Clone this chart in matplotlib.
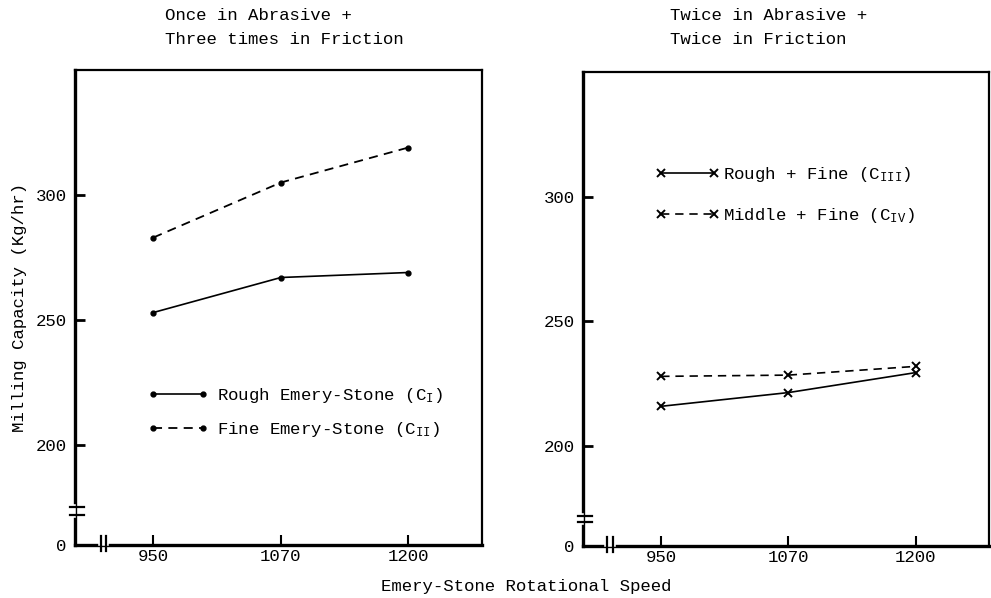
import matplotlib
matplotlib.use("Agg")
import matplotlib.pyplot as plt

plt.rcParams["font.family"] = ["Liberation Mono", "DejaVu Sans Mono"]
plt.rcParams["mathtext.fontset"] = "custom"
plt.rcParams["mathtext.rm"] = "Liberation Mono"
plt.rcParams["mathtext.it"] = "Liberation Mono"

# ---------------------------------------------------------------------------
# data
# ---------------------------------------------------------------------------
speeds = ["950", "1070", "1200"]
y_ticks = [200, 250, 300]

rough_stone = [253, 267, 269]        # C_I
fine_stone = [283, 305, 319]         # C_II
rough_fine = [216, 221.5, 229.5]     # C_III
middle_fine = [228, 228.5, 232]      # C_IV

titles_left = ["Once in Abrasive +", "Three times in Friction"]
titles_right = ["Twice in Abrasive +", "Twice in Friction"]

Y_LO, Y_HI = 160, 350
FS = 12.5

fig = plt.figure(figsize=(9.91, 5.98), dpi=100)
ax1 = fig.add_axes([75 / 991, 53 / 598, 407 / 991, 475 / 598])
ax2 = fig.add_axes([583 / 991, 52 / 598, 406 / 991, 474 / 598])


def style_axes(ax, ybreak, xbreak):
    x = range(len(speeds))
    ax.set_xlim(-0.615, 2.577)
    ax.set_ylim(Y_LO, Y_HI)
    ax.set_xticks(list(x))
    ax.set_xticklabels(speeds, fontsize=FS)
    ax.set_yticks([Y_LO] + y_ticks)
    ax.set_yticklabels(["0"] + [str(v) for v in y_ticks], fontsize=FS)
    ax.tick_params(axis="y", direction="in", length=7, width=2, pad=6)
    ax.tick_params(axis="x", direction="in", length=7, width=1.5, pad=3)
    for s in ax.spines.values():
        s.set_linewidth(1.6)
    ax.spines["left"].set_linewidth(2.4)
    ax.spines["bottom"].set_linewidth(2.4)
    # axis breaks
    kw = dict(transform=ax.transAxes, clip_on=False, zorder=5)
    ax.plot([-0.005, -0.005], [ybreak[0], ybreak[1]], color="white", lw=4, **kw)
    for yb in ybreak:
        ax.plot([-0.012, 0.022], [yb, yb], color="black", lw=1.6, **kw)
    ax.plot([xbreak[0], xbreak[1]], [0.004, 0.004], color="white", lw=4, **kw)
    for xb in xbreak:
        ax.plot([xb, xb], [-0.012, 0.018], color="black", lw=1.6, **kw)


style_axes(ax1, (0.063, 0.080), (0.063, 0.076))
style_axes(ax2, (0.050, 0.064), (0.058, 0.075))

x = list(range(len(speeds)))
dash = (0, (5, 3.5))

# left panel
ax1.plot(x, rough_stone, color="black", lw=1.2, marker="o", ms=3.5,
         label=r"Rough Emery-Stone (C$_{\mathrm{I}}$)")
ax1.plot(x, fine_stone, color="black", lw=1.3, ls=dash, marker="o", ms=3.5,
         label=r"Fine Emery-Stone (C$_{\mathrm{II}}$)")
ax1.legend(loc="upper left", bbox_to_anchor=(0.14, 0.367), frameon=False,
           numpoints=2, fontsize=FS, handlelength=3.5, handletextpad=0.5,
           labelspacing=0.85)

# right panel
ax2.plot(x, rough_fine, color="black", lw=1.2, marker="x", ms=6, mew=1.4,
         label=r"Rough + Fine (C$_{\mathrm{III}}$)")
ax2.plot(x, middle_fine, color="black", lw=1.2, ls=dash, marker="x", ms=6,
         mew=1.4, label=r"Middle + Fine (C$_{\mathrm{IV}}$)")
ax2.legend(loc="upper left", bbox_to_anchor=(0.14, 0.837), frameon=False,
           numpoints=2, fontsize=FS, handlelength=3.7, handletextpad=0.2,
           labelspacing=1.25)

# titles
for i, t in enumerate(titles_left):
    fig.text(165 / 991, 1 - (15 + 25 * i) / 598, t, fontsize=FS,
             ha="left", va="center")
for i, t in enumerate(titles_right):
    fig.text(670 / 991, 1 - (15 + 25 * i) / 598, t, fontsize=FS,
             ha="left", va="center")

fig.text(20 / 991, 1 - 308 / 598, "Milling Capacity (Kg/hr)", fontsize=FS,
         rotation=90, ha="center", va="center")
fig.text(526 / 991, 1 - 586 / 598, "Emery-Stone Rotational Speed",
         fontsize=FS, ha="center", va="center")

fig.savefig("out.png", dpi=100)
